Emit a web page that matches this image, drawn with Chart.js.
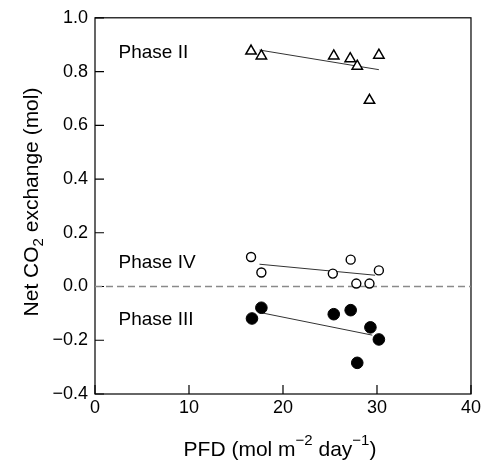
<!DOCTYPE html>
<html>
<head>
<meta charset="utf-8">
<script src="https://cdn.jsdelivr.net/npm/chart.js@4.4.1/dist/chart.umd.min.js"></script>
<style>
  html, body { margin: 0; padding: 0; background: #fff; }
</style>
</head>
<body>
<canvas id="chart" width="484" height="463"></canvas>
<script>
// Phase II - open triangles
const phase2X = [16.6, 17.7, 25.4, 27.15, 27.9, 30.2, 29.2];
const phase2Y = [0.876, 0.858, 0.858, 0.848, 0.82, 0.861, 0.693];
// Phase IV - open circles
const phase4X = [16.6, 17.7, 25.3, 27.2, 27.8, 29.2, 30.2];
const phase4Y = [0.110, 0.052, 0.048, 0.100, 0.011, 0.011, 0.060];
// Phase III - filled circles
const phase3X = [16.7, 17.7, 25.4, 27.2, 29.3, 30.2, 27.9];
const phase3Y = [-0.119, -0.079, -0.103, -0.088, -0.152, -0.197, -0.284];

// regression lines (end points)
const fit2X = [17.5, 30.2], fit2Y = [0.880, 0.807];
const fit4X = [17.5, 29.8], fit4Y = [0.083, 0.042];
const fit3X = [17.6, 29.5], fit3Y = [-0.097, -0.181];

// dashed zero line
const zeroX = [0, 40], zeroY = [0, 0];

const xTicks = [0, 10, 20, 30, 40];
const yTicks = [-0.4, -0.2, 0.0, 0.2, 0.4, 0.6, 0.8, 1.0];

const phaseNames = ["Phase II", "Phase IV", "Phase III"];
const phaseLabelX = [2.5, 2.5, 2.5];
const phaseLabelY = [0.875, 0.095, -0.118];

const FONT = "'Liberation Sans', Arial, Helvetica, sans-serif";
Chart.defaults.font.family = FONT;
Chart.defaults.color = "#000";

const pts = (xs, ys) => xs.map((x, i) => ({ x: x, y: ys[i] }));

function drawRuns(ctx, runs, cx, cy, rot) {
  ctx.save();
  ctx.translate(cx, cy);
  ctx.rotate(rot);
  ctx.fillStyle = "#000";
  ctx.textAlign = "left";
  ctx.textBaseline = "alphabetic";
  let total = 0;
  runs.forEach(r => {
    ctx.font = r.size + "px " + FONT;
    r.w = ctx.measureText(r.text).width;
    total += r.w;
  });
  let x = -total / 2;
  runs.forEach(r => {
    ctx.font = r.size + "px " + FONT;
    ctx.fillText(r.text, x, r.dy || 0);
    x += r.w;
  });
  ctx.restore();
}

// frame, inward ticks, titles and phase labels
const decor = {
  id: "decor",
  beforeDatasetsDraw(chart) {
    const { ctx, chartArea: a, scales: { x, y } } = chart;
    ctx.save();
    ctx.strokeStyle = "#000";
    ctx.lineWidth = 1.2;
    ctx.strokeRect(a.left, a.top, a.right - a.left, a.bottom - a.top);
    ctx.beginPath();
    yTicks.forEach(v => {
      const py = y.getPixelForValue(v);
      ctx.moveTo(a.left, py);
      ctx.lineTo(a.left + 9, py);
    });
    xTicks.forEach(v => {
      const px = x.getPixelForValue(v);
      ctx.moveTo(px, a.bottom);
      ctx.lineTo(px, a.bottom - 9);
    });
    ctx.stroke();
    ctx.restore();
  },
  afterDraw(chart) {
    const { ctx, scales: { x, y } } = chart;
    ctx.save();
    ctx.fillStyle = "#000";
    ctx.font = "19px " + FONT;
    ctx.textAlign = "left";
    ctx.textBaseline = "alphabetic";
    phaseNames.forEach((t, i) => {
      ctx.fillText(t, x.getPixelForValue(phaseLabelX[i]), y.getPixelForValue(phaseLabelY[i]) + 6.8);
    });
    ctx.restore();

    drawRuns(ctx, [
      { text: "PFD (mol m", size: 21 },
      { text: "\u22122", size: 15, dy: -11 },
      { text: " day", size: 21 },
      { text: "\u22121", size: 15, dy: -11 },
      { text: ")", size: 21 }
    ], 280, 456, 0);

    drawRuns(ctx, [
      { text: "Net CO", size: 21 },
      { text: "2", size: 15, dy: 5.5 },
      { text: " exchange (mol)", size: 21 }
    ], 37.7, 202, -Math.PI / 2);
  }
};

new Chart(document.getElementById("chart"), {
  type: "scatter",
  data: {
    datasets: [
      {
        label: "Phase II",
        data: pts(phase2X, phase2Y),
        pointStyle: "triangle",
        pointRadius: 6,
        borderColor: "#000",
        backgroundColor: "#fff",
        borderWidth: 1.5,
        order: 1
      },
      {
        label: "Phase IV",
        data: pts(phase4X, phase4Y),
        pointStyle: "circle",
        pointRadius: 4.5,
        borderColor: "#000",
        backgroundColor: "#fff",
        borderWidth: 1.4,
        order: 1
      },
      {
        label: "Phase III",
        data: pts(phase3X, phase3Y),
        pointStyle: "circle",
        pointRadius: 5.8,
        borderColor: "#000",
        backgroundColor: "#000",
        borderWidth: 1,
        order: 1
      },
      {
        type: "line",
        label: "fit II",
        data: pts(fit2X, fit2Y),
        borderColor: "#333",
        borderWidth: 1,
        pointRadius: 0,
        order: 2
      },
      {
        type: "line",
        label: "fit IV",
        data: pts(fit4X, fit4Y),
        borderColor: "#333",
        borderWidth: 1,
        pointRadius: 0,
        order: 2
      },
      {
        type: "line",
        label: "fit III",
        data: pts(fit3X, fit3Y),
        borderColor: "#333",
        borderWidth: 1,
        pointRadius: 0,
        order: 2
      },
      {
        type: "line",
        label: "zero",
        data: pts(zeroX, zeroY),
        borderColor: "#8a8a8a",
        borderWidth: 1.4,
        borderDash: [7, 4],
        pointRadius: 0,
        order: 3
      }
    ]
  },
  options: {
    responsive: false,
    animation: false,
    events: [],
    layout: { padding: { top: 17, right: 11, left: 0, bottom: 0 } },
    plugins: { legend: { display: false }, tooltip: { enabled: false } },
    scales: {
      x: {
        type: "linear",
        min: 0,
        max: 40,
        grid: { display: false, drawTicks: false },
        border: { display: false },
        afterBuildTicks: s => { s.ticks = xTicks.map(v => ({ value: v })); },
        afterFit: s => { s.height = 69; },
        ticks: { font: { size: 18 }, padding: 3, color: "#000" }
      },
      y: {
        type: "linear",
        min: -0.4,
        max: 1.0,
        grid: { display: false, drawTicks: false },
        border: { display: false },
        afterBuildTicks: s => { s.ticks = yTicks.map(v => ({ value: v })); },
        afterFit: s => { s.width = 95; },
        ticks: {
          font: { size: 18 },
          padding: 7,
          color: "#000",
          callback: v => v.toFixed(1).replace("-", "\u2212")
        }
      }
    }
  },
  plugins: [decor]
});
</script>
</body>
</html>
